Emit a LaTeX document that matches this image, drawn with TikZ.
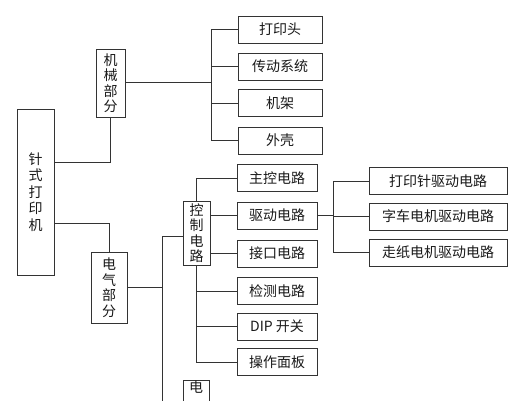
\documentclass[tikz,border=0pt]{standalone}
\usepackage{fontspec}
\newfontfamily\cjk{Noto Sans CJK SC}
\usepackage{tikz}
\usetikzlibrary{positioning}

\begin{document}
\begin{tikzpicture}[
    x=1pt, y=-1pt,
    color=black!80, line width=1pt,
    every node/.style={
        draw, text=black!90,
        inner sep=0pt,
        font=\cjk\fontsize{14}{15.5}\selectfont,
        align=center
    },
    hbox/.style={minimum height=27pt},
    vbox/.style={minimum width=#1},
    vbox/.default=28pt
]
\useasboundingbox (0,0) rectangle (522,400);
\clip (0,0) rectangle (522,400);

% main parts
\node[vbox=37pt, minimum height=166pt, font=\cjk\fontsize{14}{16.5}\selectfont]
    (zsdy) at (35.5,192) {针\\式\\打\\印\\机};
\node[vbox=29pt, minimum height=68pt] (jx) at (110.5,83) {机\\械\\部\\分};
\node[vbox=36pt, minimum height=71pt] (dq) at (109,287.5) {电\\气\\部\\分};

% mechanical part
\node[hbox, minimum width=84pt] (dyt) at (280,29.5) {打印头};
\node[hbox, minimum width=84pt] (cdxt) at (280,66.5) {传动系统};
\node[hbox, minimum width=84pt] (jj) at (280,103) {机架};
\node[hbox, minimum width=84pt] (wk) at (280,140.5) {外壳};

% electrical part
\node[vbox=27pt, minimum height=64pt] (kz) at (196.5,233) {控\\制\\电\\路};
\node[vbox=26pt, anchor=north, text depth=40pt] (dy) at (196,380) {电};

\node[hbox, minimum width=80pt] (zk) at (277,178) {主控电路};
\node[hbox, minimum width=80pt] (qd) at (277,215.5) {驱动电路};
\node[hbox, minimum width=80pt] (jk) at (277,253.5) {接口电路};
\node[hbox, minimum width=80pt] (jc) at (277,291) {检测电路};
\node[hbox, minimum width=80pt] (dip) at (277,326.5) {DIP 开关};
\node[hbox, minimum width=80pt] (cz) at (277,362) {操作面板};

% drive circuits
\node[hbox, minimum width=138pt] (dyz) at (438,181) {打印针驱动电路};
\node[hbox, minimum width=138pt] (zc) at (438,216.5) {字车电机驱动电路};
\node[hbox, minimum width=138pt] (zz) at (438,252.5) {走纸电机驱动电路};

\coordinate (t1) at (211,82);
\coordinate (t2) at (162,236);
\coordinate (t2e) at (162,420);
\coordinate (t3) at (333,215.5);

% connectors
\draw ([yshift=30pt]zsdy.east) -| (jx.south);
\draw ([yshift=-31pt]zsdy.east) -| (dq.north);

\draw (jx.east |- t1) -- (t1);
\draw (t1 |- dyt.west) -- (t1 |- wk.west);
\foreach \n in {dyt,cdxt,jj,wk}
    \draw (t1 |- \n.west) -- (\n.west);

\draw (dq.east) -- (dq.east -| t2);
\draw (t2) -- (t2e);
\draw (t2) -- (kz.west |- t2);

\draw (kz.north) -- (kz.north |- zk.west) -- (zk.west);
\draw (kz.south) -- (kz.south |- cz.west) -- (cz.west);
\foreach \n in {jc,dip}
    \draw (kz.south |- \n.west) -- (\n.west);
\foreach \n in {qd,jk}
    \draw (kz.east |- \n.west) -- (\n.west);

\draw (qd.east) -- (t3);
\draw (t3 |- dyz.west) -- (t3 |- zz.west);
\foreach \n in {dyz,zc,zz}
    \draw (t3 |- \n.west) -- (\n.west);
\end{tikzpicture}
\end{document}
